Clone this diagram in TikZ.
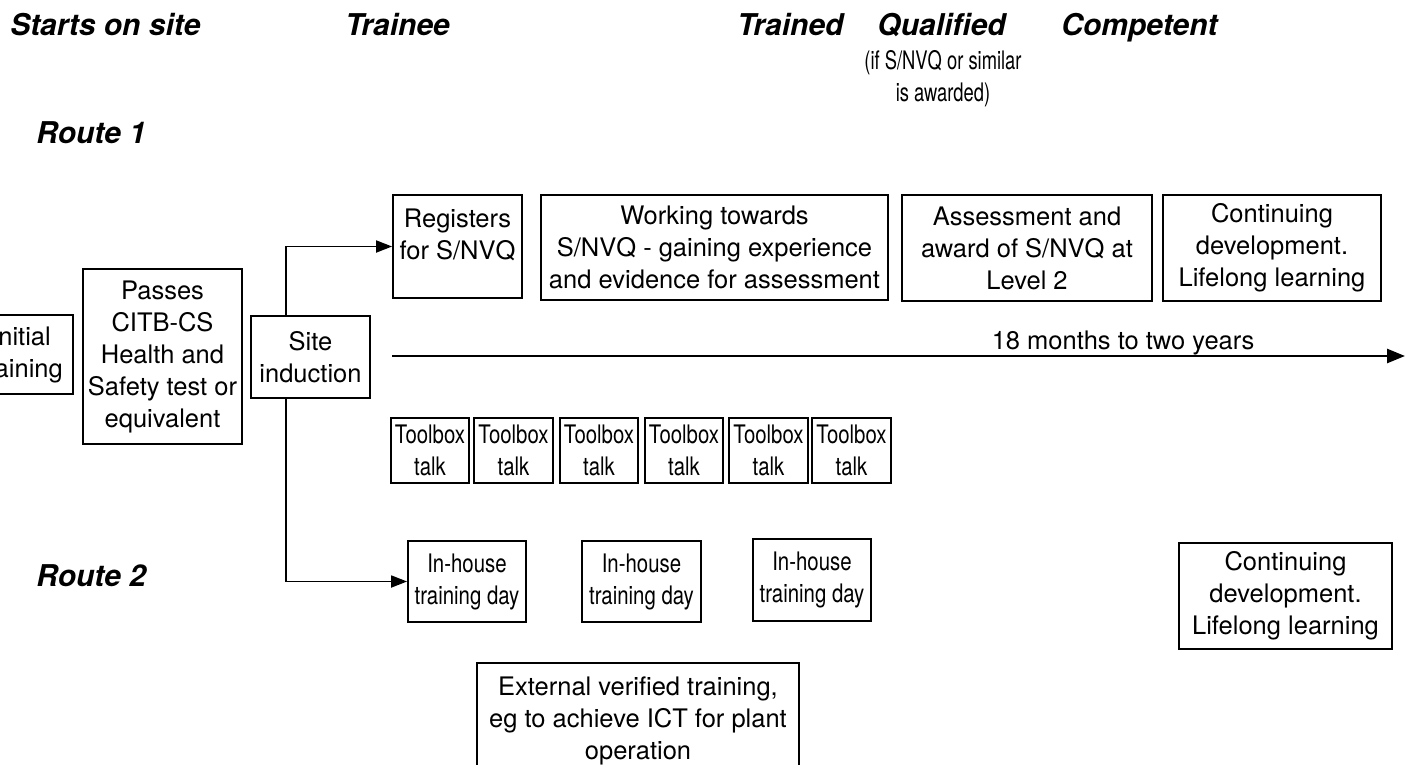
\documentclass[tikz,border=0pt]{standalone}
\usepackage{fontspec}
\setmainfont{TeX Gyre Heros}
\newfontfamily\condfont{TeX Gyre Heros}[FakeStretch=0.8]
\newfontfamily\narrowfont{TeX Gyre Heros}[FakeStretch=0.72]
\usetikzlibrary{arrows.meta}
\newcommand\myBody{\fontsize{12.75}{16}\selectfont}
\newcommand\myTitle{\fontsize{15}{18}\selectfont\bfseries\itshape}
\begin{document}
\begin{tikzpicture}[x=0.5pt,y=-0.5pt,
  box/.style={draw, line width=0.9pt, inner sep=0pt, align=center, font=\myBody},
  wh/.style 2 args={minimum width=#1*0.5pt, minimum height=#2*0.5pt},
  cbox/.style={box, font=\myBody\condfont},
  txt/.style={inner sep=0pt, align=center, font=\myBody},
  title/.style={inner sep=0pt, anchor=base west, font=\myTitle},
  conn/.style={line width=0.9pt, -{Triangle[length=8pt,width=6pt]}},
  timeline/.style={line width=1.3pt, -{Triangle[length=9pt,width=7pt]}}]
\useasboundingbox (0,0) rectangle (1413,765);
\clip (0,0) rectangle (1413,765);

% column titles
\node[title] (t1) at (10,36) {Starts on site};
\node[title] (t2) at (345,36) {Trainee};
\node[title] (t3) at (737,36) {Trained};
\node[title] (t4) at (877,36) {Qualified};
\node[title] (t5) at (1061,36) {Competent};
\node[txt, font=\myBody\narrowfont, anchor=base] (t4a) at (943,70) {(if S/NVQ or similar};
\node[txt, font=\myBody\narrowfont, anchor=base] (t4b) at (943,102) {is awarded)};
\node[title] (r1) at (36,143) {Route 1};
\node[title] (r2) at (36,586) {Route 2};

% left chain
\node[box, wh={104}{79}] (init) at (21,354.5) {Initial\\training};
\node[box, wh={159}{175}] (pass) at (162.5,356.5) {Passes\\CITB-CS\\Health and\\Safety test or\\equivalent};
\node[box, wh={119}{82}] (site) at (310.5,357) {Site\\induction};

% route 1
\node[box, wh={129}{103}] (reg) at (457.5,246.5) {};
\node[txt] (regt) at (457.5,235) {Registers\\for S/NVQ};
\node[box, wh={347}{105}] (work) at (714.5,247.5) {Working towards\\S/NVQ - gaining experience\\and evidence for assessment};
\node[box, wh={250}{106}] (assess) at (1027,248) {Assessment and\\award of S/NVQ at\\Level 2};
\node[box, wh={218}{106}] (cont1) at (1272,248) {Continuing\\development.\\Lifelong learning};

% timeline
\coordinate (tl0) at (392,356);
\coordinate (tl1) at (1405,356);
\draw[timeline] (tl0) -- (tl1);
\node[txt, anchor=base] (tllab) at (1123,349) {18 months to two years};

% toolbox talks
\node[cbox, wh={78}{65}] (tb1) at (430,450.5) {Toolbox\\talk};
\node[cbox, wh={79}{65}] (tb2) at (513.5,450.5) {Toolbox\\talk};
\node[cbox, wh={78}{65}] (tb3) at (599,450.5) {Toolbox\\talk};
\node[cbox, wh={78}{65}] (tb4) at (684,450.5) {Toolbox\\talk};
\node[cbox, wh={79}{65}] (tb5) at (768.5,450.5) {Toolbox\\talk};
\node[cbox, wh={79}{65}] (tb6) at (851.5,450.5) {Toolbox\\talk};

% route 2
\node[cbox, wh={118}{81}] (ih1) at (467,581.5) {In-house\\training day};
\node[cbox, wh={119}{81}] (ih2) at (641.5,581.5) {In-house\\training day};
\node[cbox, wh={118}{82}] (ih3) at (812,580) {In-house\\training day};
\node[box, wh={213}{106}] (cont2) at (1285.5,596) {Continuing\\development.\\Lifelong learning};
\node[box, wh={322}{116}] (ext) at (638,721) {External verified training,\\eg to achieve ICT for plant\\operation};

% connectors
\coordinate (branch) at (286,357);
\draw[conn] (branch |- site.north) |- (reg.west);
\draw[conn] (branch |- site.south) |- (ih1.west);
\end{tikzpicture}
\end{document}
